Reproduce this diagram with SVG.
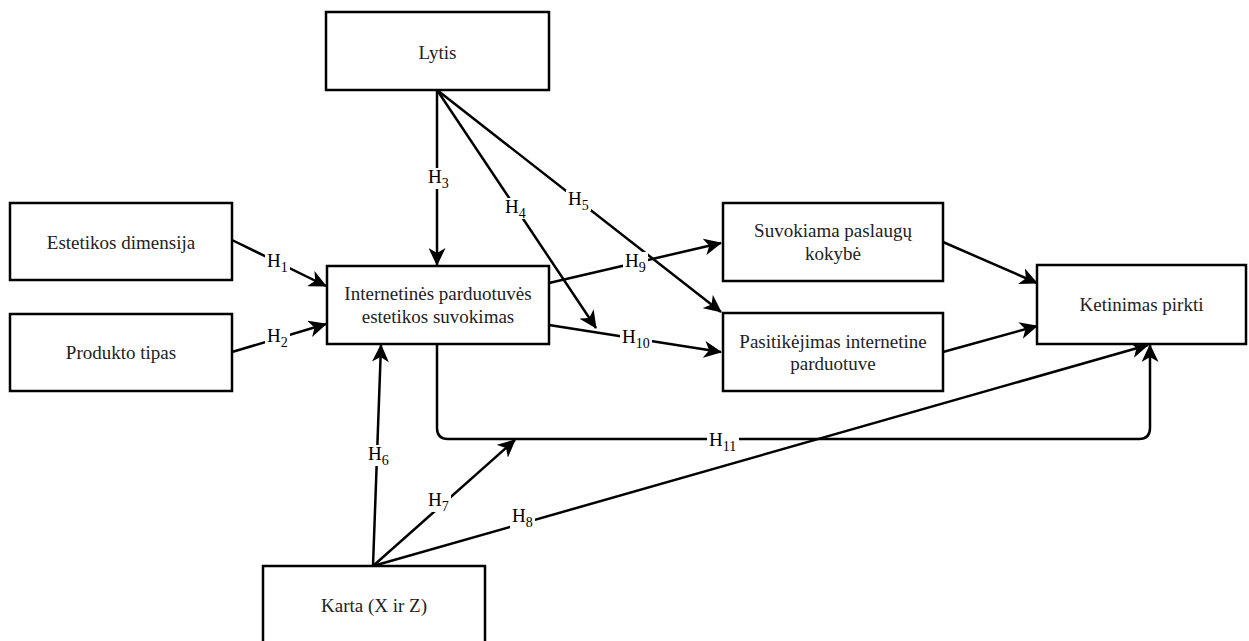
<svg xmlns="http://www.w3.org/2000/svg" width="1249" height="641" viewBox="0 0 1249 641" font-family="'Liberation Serif', 'Times New Roman', 'DejaVu Serif', serif">
<style>
.box{fill:#fff;stroke:#000;stroke-width:2.5}
.t{font-family:'Liberation Serif','Times New Roman','DejaVu Serif',serif;font-size:19px;fill:#222;text-anchor:middle}
.c{fill:none;stroke:#000;stroke-width:2.5}
.bg{fill:#fff}
.lb{font-family:'Liberation Serif','Times New Roman','DejaVu Serif',serif;font-size:19px;fill:#000}
.sub{font-size:14px}
</style>
<defs>
<marker id="arr" viewBox="0 0 18 17" refX="17" refY="8.5" markerWidth="18" markerHeight="17" markerUnits="userSpaceOnUse" orient="auto">
<path d="M0,0 L18,8.5 L0,17 L5,8.5 z" fill="#000"/>
</marker>
</defs>
<rect width="1249" height="641" fill="#fff"/>
<g id="connectors">
<path class="c" marker-end="url(#arr)" d="M232,240 L326,286"/>
<path class="c" marker-end="url(#arr)" d="M232,352 L326,324"/>
<path class="c" marker-end="url(#arr)" d="M437,90 L437,265"/>
<path class="c" marker-end="url(#arr)" d="M437,90 L596,328"/>
<path class="c" marker-end="url(#arr)" d="M437,90 L721,312"/>
<path class="c" marker-end="url(#arr)" d="M373,566 L381,345"/>
<path class="c" marker-end="url(#arr)" d="M373,566 L515,440"/>
<path class="c" marker-end="url(#arr)" d="M373,566 L1148,345"/>
<path class="c" marker-end="url(#arr)" d="M549,283 L721,243"/>
<path class="c" marker-end="url(#arr)" d="M549,325 L721,352"/>
<path class="c" marker-end="url(#arr)" d="M437,344 V428 Q437,439 448,439 H1139 Q1150,439 1150,428 V345"/>
<path class="c" marker-end="url(#arr)" d="M943,242 L1037,283"/>
<path class="c" marker-end="url(#arr)" d="M943,352 L1037,326"/>
<rect class="bg" x="265" y="252" width="25" height="21"/>
<rect class="bg" x="265" y="327" width="25" height="21"/>
<rect class="bg" x="426" y="168" width="25" height="21"/>
<rect class="bg" x="503" y="198" width="25" height="21"/>
<rect class="bg" x="566" y="190" width="25" height="21"/>
<rect class="bg" x="366" y="445" width="25" height="21"/>
<rect class="bg" x="426" y="491" width="25" height="21"/>
<rect class="bg" x="510" y="507" width="25" height="21"/>
<rect class="bg" x="623" y="252" width="25" height="21"/>
<rect class="bg" x="620" y="328" width="32" height="21"/>
<rect class="bg" x="707" y="431" width="32" height="21"/>
<text class="lb" x="267" y="267">H<tspan class="sub" dy="5">1</tspan></text>
<text class="lb" x="267" y="342">H<tspan class="sub" dy="5">2</tspan></text>
<text class="lb" x="428" y="183">H<tspan class="sub" dy="5">3</tspan></text>
<text class="lb" x="505" y="213">H<tspan class="sub" dy="5">4</tspan></text>
<text class="lb" x="568" y="205">H<tspan class="sub" dy="5">5</tspan></text>
<text class="lb" x="368" y="460">H<tspan class="sub" dy="5">6</tspan></text>
<text class="lb" x="428" y="506">H<tspan class="sub" dy="5">7</tspan></text>
<text class="lb" x="512" y="522">H<tspan class="sub" dy="5">8</tspan></text>
<text class="lb" x="625" y="267">H<tspan class="sub" dy="5">9</tspan></text>
<text class="lb" x="622" y="343">H<tspan class="sub" dy="5">10</tspan></text>
<text class="lb" x="709" y="446">H<tspan class="sub" dy="5">11</tspan></text>
</g>
<g id="lytis"><rect class="box" x="326" y="12" width="223" height="78"/><text class="t" x="437.5" y="59">Lytis</text></g>
<g id="estetikos"><rect class="box" x="10" y="203" width="222" height="77"/><text class="t" x="121" y="249">Estetikos dimensija</text></g>
<g id="produkto"><rect class="box" x="10" y="314" width="222" height="77"/><text class="t" x="121" y="359">Produkto tipas</text></g>
<g id="internetines"><rect class="box" x="327" y="266" width="222" height="78"/><text class="t" x="438" y="300">Internetinės parduotuvės</text><text class="t" x="438" y="323">estetikos suvokimas</text></g>
<g id="suvokiama"><rect class="box" x="723" y="203" width="220" height="78"/><text class="t" x="833" y="237">Suvokiama paslaugų</text><text class="t" x="833" y="260">kokybė</text></g>
<g id="pasitikejimas"><rect class="box" x="723" y="313" width="220" height="78"/><text class="t" x="833" y="348">Pasitikėjimas internetine</text><text class="t" x="833" y="370">parduotuve</text></g>
<g id="ketinimas"><rect class="box" x="1037" y="265" width="209" height="79"/><text class="t" x="1141.5" y="311">Ketinimas pirkti</text></g>
<g id="karta"><rect class="box" x="263" y="566" width="222" height="80"/><text class="t" x="374" y="612">Karta (X ir Z)</text></g>
</svg>
